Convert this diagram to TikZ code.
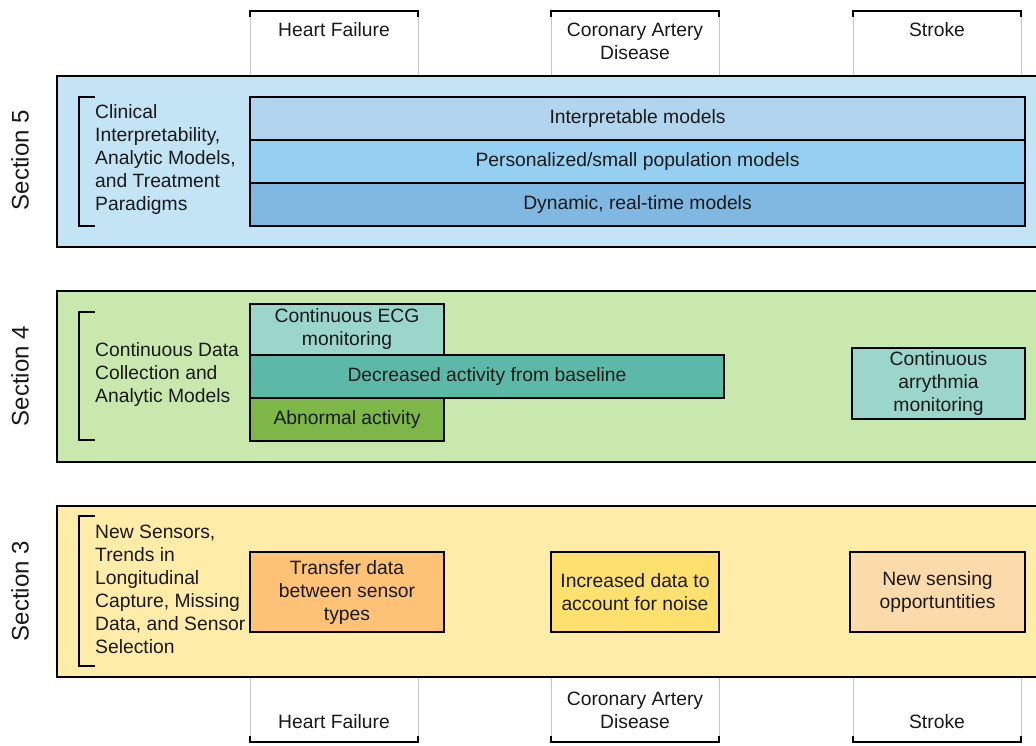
\documentclass[tikz,border=0pt]{standalone}
\usepackage{fontspec}
\setmainfont{Liberation Sans}
\usetikzlibrary{positioning}
\definecolor{panelfive}{HTML}{C3E4F5}
\definecolor{panelfour}{HTML}{C9E8AE}
\definecolor{panelthree}{HTML}{FEECA8}
\definecolor{interp}{HTML}{B2D5EF}
\definecolor{personal}{HTML}{95D0F2}
\definecolor{dynamic}{HTML}{80B8E2}
\definecolor{ecg}{HTML}{9AD6C9}
\definecolor{decrease}{HTML}{5CB9A7}
\definecolor{abnormal}{HTML}{7CB747}
\definecolor{transfer}{HTML}{FDC275}
\definecolor{noise}{HTML}{FDE06E}
\definecolor{newsense}{HTML}{FDDAA9}

\begin{document}
\begin{tikzpicture}[x=1pt, y=-1pt,
    every node/.style={font=\fontsize{19.3}{23}\selectfont, text=black!90, inner sep=0pt},
    panel/.style={draw=black, line width=2.4pt},
    box/.style={draw=black, line width=1.8pt, align=center},
    colline/.style={draw=black!22, line width=0.8pt},
    bracket/.style={draw=black, line width=1.8pt},
    sectlabel/.style={rotate=90, font=\fontsize{24}{28}\selectfont}]
			\useasboundingbox (0,0) rectangle (1036,745);
			\clip (0,0) rectangle (1036,745);
			% Column headers
			\foreach \xl/\xr in {250/418, 551/719, 853/1021} {
				\draw[colline] (\xl,11) -- (\xl,76);
				\draw[colline] (\xr,11) -- (\xr,76);
				\draw[colline] (\xl,677) -- (\xl,742);
				\draw[colline] (\xr,677) -- (\xr,742);
				\draw[bracket] (\xl,17) -- (\xl,11) -- (\xr,11) -- (\xr,17);
				\draw[bracket] (\xl,736) -- (\xl,742) -- (\xr,742) -- (\xr,736);
			}
			\node (hfTop) at (334,30) {Heart Failure};
			\node[align=center] (cadTop) at (635,41.5) {Coronary Artery\\Disease};
			\node (strokeTop) at (937,30) {Stroke};
			\node (hfBot) at (334,722) {Heart Failure};
			\node[align=center] (cadBot) at (635,710.5) {Coronary Artery\\Disease};
			\node (strokeBot) at (937,722) {Stroke};
			% Section 5
			\filldraw[panel, fill=panelfive] (57,76) rectangle (1060,247);
			\node[sectlabel] (secFive) at (20,160) {Section 5};
			\draw[bracket] (95,97) -- (79,97) -- (79,226) -- (95,226);
			\node[anchor=west, align=left] (clinical) at (95,159.5)
				{Clinical\\Interpretability,\\Analytic Models,\\and Treatment\\Paradigms};
			\node[box, fill=interp, minimum width=775, minimum height=43] (interpModels) at (637.5,118.5) {Interpretable models};
			\node[box, fill=personal, minimum width=775, minimum height=43] (personalModels) at (637.5,161.5) {Personalized/small population models};
			\node[box, fill=dynamic, minimum width=775, minimum height=43] (dynamicModels) at (637.5,204.5) {Dynamic, real-time models};
			% Section 4
			\filldraw[panel, fill=panelfour] (57,291) rectangle (1060,462);
			\node[sectlabel] (secFour) at (20,376) {Section 4};
			\draw[bracket] (95,312) -- (79,312) -- (79,440) -- (95,440);
			\node[anchor=west, align=left] (continuous) at (95,374.5)
				{Continuous Data\\Collection and\\Analytic Models};
			\node[box, fill=ecg, minimum width=194, minimum height=51] (ecgMon) at (347,329.5) {Continuous ECG\\monitoring};
			\node[box, fill=abnormal, minimum width=194, minimum height=43] (abnormalAct) at (347,419.5) {Abnormal activity};
			\node[box, fill=decrease, minimum width=474, minimum height=43] (decreasedAct) at (487,376.5) {Decreased activity from baseline};
			\node[box, fill=ecg, minimum width=173, minimum height=71] (arrythmia) at (938.5,383.5) {Continuous\\arrythmia\\monitoring};
			% Section 3
			\filldraw[panel, fill=panelthree] (57,506) rectangle (1060,677);
			\node[sectlabel] (secThree) at (20,591) {Section 3};
			\draw[bracket] (95,516) -- (79,516) -- (79,666) -- (95,666);
			\node[anchor=west, align=left] (sensors) at (95,589.5)
				{New Sensors,\\Trends in\\Longitudinal\\Capture, Missing\\Data, and Sensor\\Selection};
			\node[box, fill=transfer, minimum width=194, minimum height=80] (transferData) at (347,592) {Transfer data\\between sensor\\types};
			\node[box, fill=noise, minimum width=168, minimum height=80] (increasedData) at (635,592) {Increased data to\\account for noise};
			\node[box, fill=newsense, minimum width=175, minimum height=80] (newSensing) at (937.5,592) {New sensing\\opportuntities};
		\end{tikzpicture}
\end{document}
